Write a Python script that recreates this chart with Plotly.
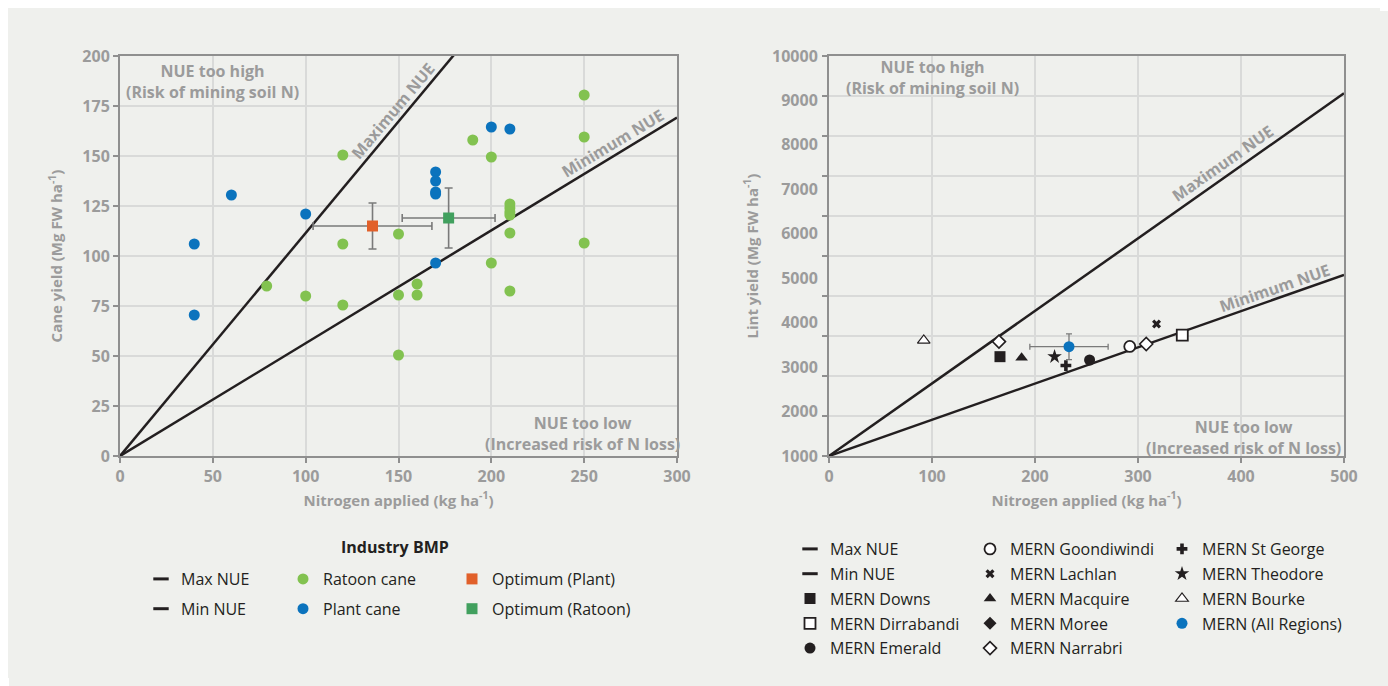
import plotly.graph_objects as go

# ---------------- Left chart: sugarcane (Industry BMP) ----------------
ratoon_n = [79, 100, 120, 120, 120, 150, 150, 150, 160, 160, 190, 200, 200,
            210, 210, 210, 210, 210, 210, 250, 250, 250]
ratoon_y = [85, 80, 150.5, 106, 75.5, 111, 80.5, 50.5, 86, 80.5, 158, 149.5, 96.5,
            126, 124, 122, 120.5, 111.5, 82.5, 180.5, 159.5, 106.5]
plant_n = [40, 40, 60, 100, 170, 170, 170, 170, 170, 200, 210]
plant_y = [106, 70.5, 130.5, 121, 142, 137.5, 132, 131, 96.5, 164.5, 163.5]
opt_plant_n, opt_plant_y = [136], [115]
opt_plant_nerr, opt_plant_yerr = [32], [11.5]
opt_ratoon_n, opt_ratoon_y = [177], [119]
opt_ratoon_nerr, opt_ratoon_yerr = [25], [15]
cane_line_n = [0, 300]
cane_nue_max = 1.115
cane_nue_min = 0.564

# ---------------- Right chart: cotton (MERN) ----------------
lint_line_n = [0, 500]
lint_max_y = [1000, 9160]
lint_min_y = [1000, 5075]
downs_n, downs_y = [166], [3235]
dirrabandi_n, dirrabandi_y = [343], [3720]
emerald_n, emerald_y = [253], [3160]
goondiwindi_n, goondiwindi_y = [292], [3465]
lachlan_n, lachlan_y = [318], [3970]
macquire_n, macquire_y = [187], [3210]
moree_n, moree_y = [None], [None]   # no visible point in the reference
narrabri_n, narrabri_y = [165, 308], [3575, 3520]
stgeorge_n, stgeorge_y = [230], [3035]
theodore_n, theodore_y = [219], [3235]
bourke_n, bourke_y = [92], [3600]
allreg_n, allreg_y = [233], [3460]
allreg_nerr, allreg_yerr = [38], [290]

lint_ticks = [1000, 2000, 3000, 4000, 5000, 6000, 7000, 8000, 9000, 10000]

# ---------------- styles ----------------
FONT = "Open Sans"
GRAY = "#9b9b9b"
DARK = "#231f20"
GRID = "#d9dad9"
AXL = "#8f8f8f"
GREEN = "#82c250"
BLUE = "#0b73bd"
ORANGE = "#e1602a"
DGREEN = "#41a05e"
PANEL = "#eff0ed"

# figure sits inside the page's default 8px body margin
OFF = 8
W, H = 1388 - 2 * OFF, 686 - 2 * OFF
def px_x(p):
    return (p - OFF) / W
def px_y(p):
    return 1 - (p - OFF) / H

fig = go.Figure()

# lines (left)
fig.add_trace(go.Scatter(x=cane_line_n, y=[n * cane_nue_max for n in cane_line_n], mode="lines",
                         line=dict(color=DARK, width=2.5), showlegend=False, xaxis="x", yaxis="y"))
fig.add_trace(go.Scatter(x=cane_line_n, y=[n * cane_nue_min for n in cane_line_n], mode="lines",
                         line=dict(color=DARK, width=2.5), showlegend=False, xaxis="x", yaxis="y"))
# points (left)
fig.add_trace(go.Scatter(x=ratoon_n, y=ratoon_y, mode="markers", name="Ratoon cane",
                         marker=dict(color=GREEN, size=11), legend="legend2", legendgroup="rc",
                         xaxis="x", yaxis="y"))
fig.add_trace(go.Scatter(x=plant_n, y=plant_y, mode="markers", name="Plant cane",
                         marker=dict(color=BLUE, size=11), legend="legend2", legendgroup="pc",
                         xaxis="x", yaxis="y"))
eb = dict(color="#7a7a7a", thickness=1.6, width=4)
fig.add_trace(go.Scatter(x=opt_plant_n, y=opt_plant_y, mode="markers", name="Optimum (Plant)",
                         marker=dict(color=ORANGE, size=11, symbol="square"),
                         error_x=dict(type="data", array=opt_plant_nerr, **eb),
                         error_y=dict(type="data", array=opt_plant_yerr, **eb),
                         legend="legend3", legendgroup="op", xaxis="x", yaxis="y"))
fig.add_trace(go.Scatter(x=opt_ratoon_n, y=opt_ratoon_y, mode="markers", name="Optimum (Ratoon)",
                         marker=dict(color=DGREEN, size=11, symbol="square"),
                         error_x=dict(type="data", array=opt_ratoon_nerr, **eb),
                         error_y=dict(type="data", array=opt_ratoon_yerr, **eb),
                         legend="legend3", legendgroup="or", xaxis="x", yaxis="y"))
# legend proxies for lines (left)
dash = dict(symbol="line-ew", size=11, line=dict(color=DARK, width=3), color=DARK)
fig.add_trace(go.Scatter(x=[None], y=[None], mode="markers", name="Max NUE", marker=dash,
                         legend="legend", legendgroup="lmax", xaxis="x", yaxis="y"))
fig.add_trace(go.Scatter(x=[None], y=[None], mode="markers", name="Min NUE", marker=dash,
                         legend="legend", legendgroup="lmin", xaxis="x", yaxis="y"))

# lines (right)
fig.add_trace(go.Scatter(x=lint_line_n, y=lint_max_y, mode="lines",
                         line=dict(color=DARK, width=2.5), showlegend=False, xaxis="x2", yaxis="y2"))
fig.add_trace(go.Scatter(x=lint_line_n, y=lint_min_y, mode="lines",
                         line=dict(color=DARK, width=2.5), showlegend=False, xaxis="x2", yaxis="y2"))

def mern(name, xs, ys, symbol, color, line_color=None, lw=0, size=10, legend="legend4", **kw):
    mk = dict(symbol=symbol, color=color, size=size)
    if line_color:
        mk["line"] = dict(color=line_color, width=lw)
    fig.add_trace(go.Scatter(x=xs, y=ys, mode="markers", name=name, marker=mk,
                             legend=legend, legendgroup=name, xaxis="x2", yaxis="y2", **kw))

# column 1
fig.add_trace(go.Scatter(x=[None], y=[None], mode="markers", name="Max NUE", marker=dash,
                         legend="legend4", legendgroup="rmax", xaxis="x2", yaxis="y2"))
fig.add_trace(go.Scatter(x=[None], y=[None], mode="markers", name="Min NUE", marker=dash,
                         legend="legend4", legendgroup="rmin", xaxis="x2", yaxis="y2"))
mern("MERN Downs", downs_n, downs_y, "square", DARK, size=11)
mern("MERN Dirrabandi", dirrabandi_n, dirrabandi_y, "square", "white", DARK, 1.8, size=11)
mern("MERN Emerald", emerald_n, emerald_y, "circle", DARK, size=11)
# column 2
mern("MERN Goondiwindi", goondiwindi_n, goondiwindi_y, "circle", "white", DARK, 1.8, size=11, legend="legend5")
mern("MERN Lachlan", lachlan_n, lachlan_y, "x", DARK, size=8, legend="legend5")
mern("MERN Macquire", macquire_n, macquire_y, "triangle-up", DARK, size=11, legend="legend5")
mern("MERN Moree", moree_n, moree_y, "diamond", DARK, size=10, legend="legend5")
mern("MERN Narrabri", narrabri_n, narrabri_y, "diamond", "white", DARK, 1.6, size=10, legend="legend5")
# column 3
mern("MERN St George", stgeorge_n, stgeorge_y, "cross", DARK, size=9, legend="legend6")
mern("MERN Theodore", theodore_n, theodore_y, "star", DARK, size=11, legend="legend6")
mern("MERN Bourke", bourke_n, bourke_y, "triangle-up", "white", DARK, 1.2, size=11, legend="legend6")
mern("MERN (All Regions)", allreg_n, allreg_y, "circle", BLUE, size=11, legend="legend6",
     error_x=dict(type="data", array=allreg_nerr, color="#7a7a7a", thickness=1.3, width=3),
     error_y=dict(type="data", array=allreg_yerr, color="#7a7a7a", thickness=1.3, width=3))

tickfont = dict(family=FONT, size=16, color=GRAY, weight="bold")
titlefont = dict(family=FONT, size=15, color=GRAY, weight="bold")
common = dict(showline=True, linecolor=AXL, linewidth=2, mirror=True, ticks="outside", ticklen=5,
              tickcolor=AXL, tickwidth=1.5, gridcolor=GRID, gridwidth=1.5, zeroline=False,
              tickfont=tickfont, automargin=False)

ydom = [px_y(456), px_y(56)]
fig.update_layout(
    width=W, height=H, autosize=False,
    margin=dict(l=0, r=0, t=0, b=0, pad=0, autoexpand=False),
    paper_bgcolor=PANEL, plot_bgcolor="rgba(0,0,0,0)",
    xaxis=dict(domain=[px_x(120), px_x(677)], range=[0, 300], dtick=50, anchor="y",
               title=dict(text="Nitrogen applied (kg ha<sup>-1</sup>)", font=titlefont, standoff=9), **common),
    yaxis=dict(domain=ydom, range=[0, 200], dtick=25, anchor="x",
               title=dict(text="Cane yield (Mg FW ha<sup>-1</sup>)", font=titlefont, standoff=16), **common),
    xaxis2=dict(domain=[px_x(829), px_x(1344)], range=[0, 500], dtick=100, anchor="y2",
                title=dict(text="Nitrogen applied (kg ha<sup>-1</sup>)", font=titlefont, standoff=9), **common),
    yaxis2=dict(domain=ydom, range=[1000, 10000], anchor="x2",
                tickmode="array", tickvals=lint_ticks, ticktext=[str(v) for v in lint_ticks],
                showgrid=False,
                minor=dict(tick0=1000, dtick=900, showgrid=True, gridcolor=GRID, gridwidth=1.5,
                           ticks="outside", ticklen=5, tickcolor=AXL, tickwidth=1.5),
                title=dict(text="Lint yield (Mg FW ha<sup>-1</sup>)", font=titlefont, standoff=10),
                ticklabelstandoff=6,
                **{k: v for k, v in common.items() if k not in ("ticks",)}, ticks=""),
)

legfont = dict(family=FONT, size=16, color=DARK)
def leg(xp, yp, gap):
    return dict(x=px_x(xp), y=px_y(yp), xanchor="left", yanchor="top", orientation="v",
                bgcolor="rgba(0,0,0,0)", font=legfont, tracegroupgap=gap, itemwidth=30,
                itemclick=False, itemdoubleclick=False)

fig.update_layout(
    legend=leg(141, 562, 6), legend2=leg(283, 562, 6), legend3=leg(452, 562, 6),
    legend4=leg(790, 532, 1), legend5=leg(970, 532, 1), legend6=leg(1162, 532, 1),
)

ann = dict(showarrow=False, font=dict(family=FONT, size=16, color=GRAY, weight="bold"))
annotations = [
    dict(text="NUE too high<br>(Risk of mining soil N)", x=50, y=187, xref="x", yref="y", **ann),
    dict(text="Maximum NUE", x=146.8, y=172.7, xref="x", yref="y", textangle=-50, **ann),
    dict(text="Minimum NUE", x=265.6, y=156.4, xref="x", yref="y", textangle=-31, **ann),
    dict(text="NUE too low<br>(Increased risk of N loss)", x=249, y=11.5, xref="x", yref="y", **ann),
    dict(text="NUE too high<br>(Risk of mining soil N)", x=100, y=9505, xref="x2", yref="y2", **ann),
    dict(text="Maximum NUE", x=382.5, y=7593, xref="x2", yref="y2", textangle=-35, **ann),
    dict(text="Minimum NUE", x=433, y=4780, xref="x2", yref="y2", textangle=-19, **ann),
    dict(text="NUE too low<br>(Increased risk of N loss)", x=402, y=1416, xref="x2", yref="y2", **ann),
    dict(text="Industry BMP", x=px_x(395), y=px_y(547), xref="paper", yref="paper",
         xanchor="center", yanchor="middle",
         showarrow=False, font=dict(family=FONT, size=16, color=DARK, weight="bold")),
]
fig.update_layout(annotations=annotations)

bg = ("'linear-gradient(to right, white 9px, transparent 9px), "
      "linear-gradient(white 11px, " + PANEL + " 11px)'")
page_bg = ("document.documentElement.style.background=" + bg + ";"
           "document.body.style.background=" + bg + ";")
fig.write_html("out.html", config={"displayModeBar": False}, post_script=page_bg)
